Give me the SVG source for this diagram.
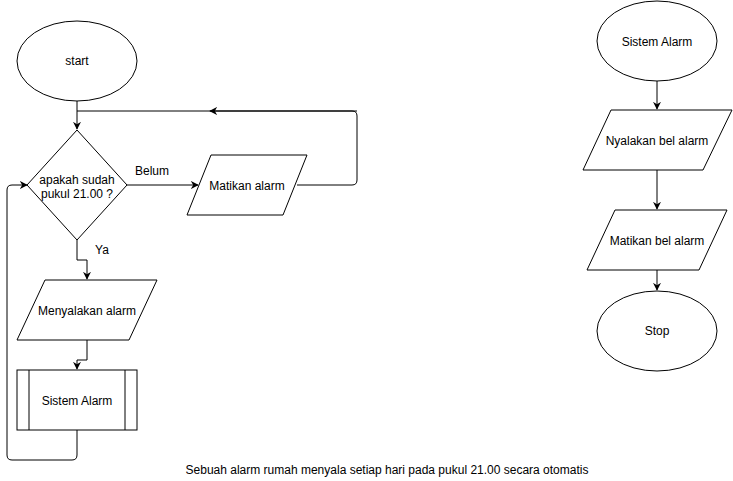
<svg xmlns="http://www.w3.org/2000/svg" width="733" height="481" viewBox="0 0 733 481">
<style>
.s{fill:#fff;stroke:#000;stroke-width:1}
.c{fill:none;stroke:#000;stroke-width:1}
text{font-family:"Liberation Sans",Arial,sans-serif;font-size:12px;fill:#000;text-anchor:middle}
</style>
<defs>
<marker id="a" viewBox="0 0 10 10" refX="9" refY="5" markerWidth="8" markerHeight="8" orient="auto" markerUnits="userSpaceOnUse">
<path d="M0,0 L10,5 L0,10 L3,5 Z" fill="#000"/>
</marker>
</defs>
<rect width="733" height="481" fill="#fff"/>
<g id="connectors">
<path class="c" d="M77,101 V129" marker-end="url(#a)"/>
<path class="c" d="M297,185 H352 Q357,185 357,180 V116 Q357,111 352,111 H77"/>
<path class="c" d="M357,111 H210" marker-end="url(#a)"/>
<path class="c" d="M127,185 H198" marker-end="url(#a)"/>
<path class="c" d="M77,240 V260 H87 V279" marker-end="url(#a)"/>
<path class="c" d="M87,340 V360 H77 V369" marker-end="url(#a)"/>
<path class="c" d="M77,430 V455 Q77,460 72,460 H12 Q7,460 7,455 V190 Q7,185 12,185 H27" marker-end="url(#a)"/>
<path class="c" d="M657,81 V109" marker-end="url(#a)"/>
<path class="c" d="M657,170 V209" marker-end="url(#a)"/>
<path class="c" d="M657,270 V290" marker-end="url(#a)"/>
<text x="152" y="175">Belum</text>
<text x="102" y="254">Ya</text>
</g>
<g id="start"><ellipse class="s" cx="77" cy="61" rx="60" ry="40"/><text x="77" y="65">start</text></g>
<g id="decision"><path class="s" d="M77,130 L127,185 L77,240 L27,185 Z"/><text x="77" y="184">apakah sudah</text><text x="77" y="198">pukul 21.00 ?</text></g>
<g id="matikan"><path class="s" d="M211,155 H307 L283,215 H187 Z"/><text x="247" y="190">Matikan alarm</text></g>
<g id="menyalakan"><path class="s" d="M45,280 H157 L129,340 H17 Z"/><text x="87" y="315">Menyalakan alarm</text></g>
<g id="sistem1"><rect class="s" x="17" y="370" width="120" height="60"/><path class="c" d="M29,370 V430 M125,370 V430"/><text x="77" y="405">Sistem Alarm</text></g>
<g id="sistem2"><ellipse class="s" cx="657" cy="41" rx="60" ry="40"/><text x="657" y="46">Sistem Alarm</text></g>
<g id="nyalakan"><path class="s" d="M611,110 H732 L703,170 H583 Z"/><text x="657" y="145">Nyalakan bel alarm</text></g>
<g id="matikanbel"><path class="s" d="M615,210 H727 L699,270 H587 Z"/><text x="657" y="245">Matikan bel alarm</text></g>
<g id="stop"><ellipse class="s" cx="657" cy="331" rx="60" ry="40"/><text x="657" y="335">Stop</text></g>
<g id="caption"><text x="387" y="474">Sebuah alarm rumah menyala setiap hari pada pukul 21.00 secara otomatis</text></g>
</svg>
